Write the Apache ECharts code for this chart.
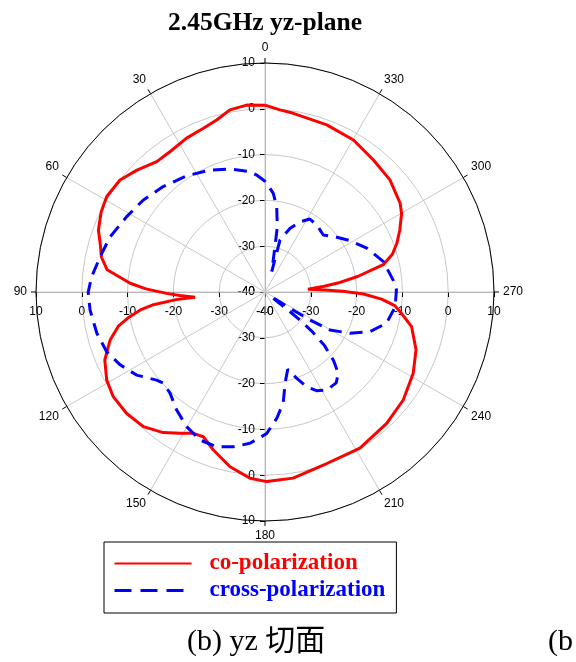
<!DOCTYPE html>
<html><head><meta charset="utf-8">
<script src="https://cdn.jsdelivr.net/npm/echarts@6/dist/echarts.min.js"></script>
<style>html,body{margin:0;padding:0;background:#fff}#c{width:576px;height:662px}</style>
</head><body><div id="c"></div>
<script>
const titleText = '2.45GHz yz-plane';
const captionText = '(b) yz 切面';
const sideText = '(b';
const seriesNames = ['co-polarization', 'cross-polarization'];
const radiusMin = -40, radiusMax = 10, radiusStep = 10;
const angleStep = 30;

const coAngles = [0,5.6,10.9,15.7,20.6,27,34,39.7,46.4,52.3,58.9,64,69.6,74,78,82,86.3,88.5,90.8,92.4,94.3,94.9,96.5,98.2,100.5,103,107.2,113,119.1,124.6,131.3,137.9,144.1,149,153.1,156.9,161.9,168.7,175.4,180.5,188.6,199.8,211.3,222.8,232,241.3,249.1,256.7,260.5,264,266.5,268.8,270.5,272,273.6,275.5,277,279.5,283,286.5,290.3,294.7,299.9,303.3,311.9,320.6,329.8,339.7,351,355.3,360];
const coValues = [0.8,1.0,0.5,-1.0,-1.8,-2.3,-3.0,-3.0,-1.4,0.0,0.35,-0.2,-1.2,-2.6,-3.5,-5.2,-10.5,-14.0,-18.5,-21.4,-24.7,-20.5,-15.5,-12.5,-9.8,-7.2,-4.6,-2.0,-0.45,0.25,0.2,-0.4,-2.1,-4.0,-5.4,-5.65,-3.7,-1.1,0.8,1.4,1.1,-0.2,-0.1,-0.9,-1.7,-3.1,-4.7,-7.1,-9.5,-11.5,-14.5,-18.5,-23,-27,-30.6,-27,-24,-19.5,-13.5,-11.0,-9.3,-7.6,-5.6,-4.7,-3.35,-2.7,-1.6,-1.1,-0.5,-0.1,0.8];

const crossAngles = [0,4.1,7.1,15.9,24.3,34,44,52.9,61.4,70.4,77.9,85,90,95.9,103.8,110.7,116.7,122.9,129.1,131.9,136.8,143.2,149.8,156.3,162.7,168.4,174.3,180.7,185.3,189.3,192.4,196.4,200.2,203.8,207.6,212.2,218.1,222,225,228,230,231.3,232,233,235,236.9,238.1,239.7,244.1,249.3,255.6,263.5,270.9,275.3,284.4,293.3,301.1,307.3,314.4,322.3,328.4,333.5,338.6,343.9,341.7,347.6,349.3,352.2,355.2,359.1,360];
const crossValues = [-15.8,-14.4,-13.5,-12.1,-10.8,-9.4,-8.0,-6.7,-5.6,-4.1,-3.2,-2.0,-1.4,-1.6,-2.2,-3.05,-4.6,-6.6,-9.5,-10.2,-9.7,-7.8,-6.0,-4.7,-4.6,-5.5,-6.8,-9.1,-12.3,-15.4,-19.6,-22.4,-19.9,-17.4,-15.7,-14.7,-14.8,-16.1,-18.8,-22.5,-26.5,-30.2,-34,-38.5,-37.5,-33.5,-28.4,-23.6,-19.4,-15.5,-12.6,-11.4,-11.3,-11.9,-13.3,-15.8,-18.3,-20.3,-22.2,-21.5,-21.3,-22.9,-25.1,-28.2,-35.3,-29.9,-25.5,-21.2,-18.4,-16.3,-15.8];

const CX = 265, CY = 292, R = 229;
const grid = '#c8c8c8', axisGray = '#a8a8a8';
const lblFont = {color: '#000', fontSize: 12, fontFamily: 'Liberation Sans, Arial, sans-serif'};

function zip(a, v) { return a.map((t, i) => [v[i], t]); }

// up, left, down, right radial scales
const starts = [90, 180, 270, 0];
const labelCfg = [
  {margin: 10},
  {margin: 14},
  {margin: -10, align: 'right'},
  {margin: -14, verticalAlign: 'top'}
];
const tickLen = [5, 5, -5, -5];

const polar = starts.map(() => ({center: [CX, CY], radius: R}));
const angleAxis = starts.map((s, i) => i === 0 ? {
  polarIndex: 0, type: 'value', min: 0, max: 360, interval: angleStep,
  startAngle: s, clockwise: false,
  axisLine: {show: true, lineStyle: {color: '#000', width: 1}},
  axisTick: {show: true, length: 5, inside: false, lineStyle: {color: '#000', width: 1}},
  axisLabel: Object.assign({margin: 9, align: 'center', verticalAlign: 'middle', formatter: v => v >= 360 ? '' : String(v)}, lblFont),
  splitLine: {show: true, lineStyle: {color: grid, width: 1}},
  z: 3
} : {
  polarIndex: i, type: 'value', min: 0, max: 360, interval: angleStep,
  startAngle: s, clockwise: false, show: false
});
const radiusAxis = starts.map((s, i) => ({
  polarIndex: i, type: 'value', min: radiusMin, max: radiusMax, interval: radiusStep,
  axisLine: {show: true, lineStyle: {color: axisGray, width: 1}},
  axisTick: {show: true, length: tickLen[i], lineStyle: {color: '#000', width: 1}},
  axisLabel: Object.assign({show: true}, labelCfg[i], lblFont),
  splitLine: {show: i === 0, lineStyle: {color: grid, width: 1}},
  z: 1
}));

const chart = echarts.init(document.getElementById('c'), null, {renderer: 'canvas'});
chart.setOption({
  animation: false,
  backgroundColor: '#fff',
  title: [
    {text: titleText, left: 163, top: 5, textStyle: {fontFamily: 'Liberation Serif, Times New Roman, serif', fontWeight: 'bold', fontSize: 25.5, color: '#000'}},
    {text: captionText, left: 182, top: 622, textStyle: {fontFamily: 'Liberation Serif, Noto Sans CJK SC, serif', fontWeight: 'normal', fontSize: 30, color: '#000'}},
    {text: sideText, left: 543, top: 622, textStyle: {fontFamily: 'Liberation Serif, serif', fontWeight: 'normal', fontSize: 30, color: '#000'}}
  ],
  legend: {
    orient: 'vertical', left: 104, top: 542,
    padding: [10, 11, 11, 9], itemGap: 4, itemWidth: 77, itemHeight: 14,
    borderColor: '#000', borderWidth: 1, backgroundColor: '#fff',
    textStyle: {fontFamily: 'Liberation Serif, Times New Roman, serif', fontWeight: 'bold', fontSize: 23, padding: [0, 0, 0, 13]},
    data: [
      {name: seriesNames[0], textStyle: {color: '#ff0000'}, itemStyle: {opacity: 0}},
      {name: seriesNames[1], textStyle: {color: '#0000ff'}, itemStyle: {opacity: 0}, lineStyle: {type: [17, 9], width: 3}}
    ]
  },
  polar: polar,
  angleAxis: angleAxis,
  radiusAxis: radiusAxis,
  series: [
    {name: seriesNames[0], type: 'line', coordinateSystem: 'polar', polarIndex: 0, symbol: 'none', showSymbol: false, z: 5,
     lineStyle: {color: '#ff0000', width: 3}, itemStyle: {color: '#ff0000'}, data: zip(coAngles, coValues)},
    {name: seriesNames[1], type: 'line', coordinateSystem: 'polar', polarIndex: 0, symbol: 'none', showSymbol: false, z: 6,
     lineStyle: {color: '#0000ff', width: 3, type: [13, 8]}, itemStyle: {color: '#0000ff'}, data: zip(crossAngles, crossValues)}
  ]
});
</script></body></html>
